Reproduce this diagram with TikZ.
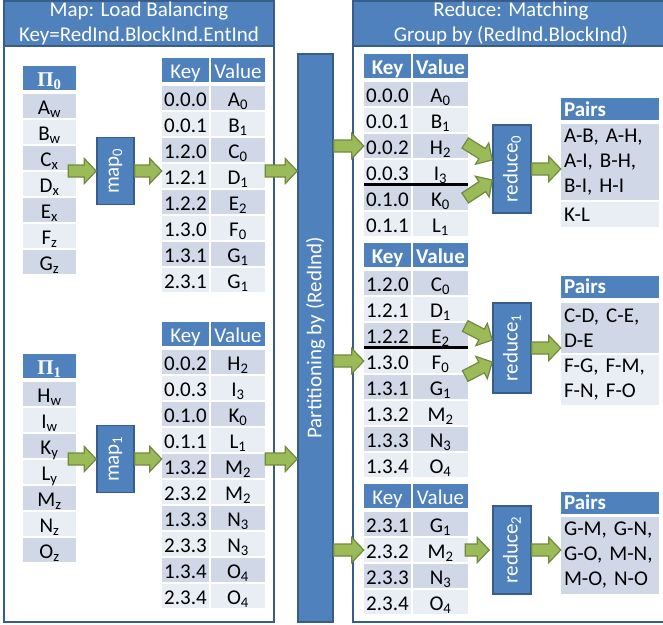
\documentclass[tikz,border=0pt]{standalone}
\usepackage{fontspec}
\setmainfont{Carlito}
\newfontfamily\pifont{Liberation Serif}
\usepackage{graphicx}
\usetikzlibrary{calc,positioning}

\definecolor{hdrblue}{HTML}{4F81BD}
\definecolor{lineblue}{HTML}{385D8A}
\definecolor{rowdark}{HTML}{D0D8E8}
\definecolor{rowlight}{HTML}{E9EDF4}
\definecolor{arrowfill}{HTML}{9BBB59}
\definecolor{arrowline}{HTML}{71893F}

% block arrow from #1 to #2
\newcommand{\greenarrow}[2]{%
  \path (#1) coordinate (gas) (#2) coordinate (gat);
  \path ($(gat)!12pt!(gas)$) coordinate (gac);
  \filldraw[fill=arrowfill,draw=arrowline,line width=1.2pt,line join=miter]
    ($(gas)!6pt!90:(gat)$) -- ($(gac)!6pt!90:(gat)$) -- ($(gac)!12.5pt!90:(gat)$) -- (gat)
    -- ($(gac)!12.5pt!-90:(gat)$) -- ($(gac)!6pt!-90:(gat)$) -- ($(gas)!6pt!-90:(gat)$) -- cycle;}

\begin{document}
\begin{tikzpicture}
		[x=1pt,y=-1pt,font=\fontsize{21}{25}\selectfont,
		cell/.style={shape=rectangle,inner sep=0pt,minimum height=24pt,text height=17pt,text depth=1pt},
		head cell/.style={cell,fill=hdrblue,text=white},
		fun box/.style={shape=rectangle,draw=lineblue,line width=1.5pt,fill=hdrblue,text=white,inner sep=0pt},
		panel head/.style={shape=rectangle,draw=lineblue,line width=1.5pt,fill=hdrblue,text=white,inner sep=0pt,minimum height=45pt,align=center},
		pair cell/.style={shape=rectangle,inner xsep=3pt,inner ysep=0pt,text width=92pt,align=left},
		panel/.style={draw=lineblue,line width=2pt},
		cut line/.style={line width=3pt}]
		\fill[white] (0,0) rectangle (663,624);
		\useasboundingbox (0,0) rectangle (663,624);
		
		% panels
		\draw[panel] (4,1) rectangle (274,622);
		\node[panel head,minimum width=270pt] (maphead) at (139,23.5) {Map: Load Balancing\\Key=RedInd.BlockInd.EntInd};
		\draw[panel] (353,1) rectangle (669,622);
		\node[panel head,minimum width=316pt] (redhead) at (511,23.5) {Reduce: Matching\\Group by (RedInd.BlockInd)};
		
		% input blocks
		\node[head cell,minimum width=53pt] (pi0h) at (49.5,78) {\pifont\bfseries Π\textsubscript{0}};
		\foreach \vv [count=\i] in {A\textsubscript{w},B\textsubscript{w},C\textsubscript{x},D\textsubscript{x},E\textsubscript{x},F\textsubscript{z},G\textsubscript{z}}{
			\ifodd\i\relax \def\rc{rowdark}\else \def\rc{rowlight}\fi
			\node[cell,fill=\rc,minimum width=53pt] (pi0r\i) at (49.5,{106+26*(\i-1)}) {\vv};
		}
		\node[head cell,minimum width=53pt] (pi1h) at (49.5,366) {\pifont\bfseries Π\textsubscript{1}};
		\foreach \vv [count=\i] in {H\textsubscript{w},I\textsubscript{w},K\textsubscript{y},L\textsubscript{y},M\textsubscript{z},N\textsubscript{z},O\textsubscript{z}}{
			\ifodd\i\relax \def\rc{rowdark}\else \def\rc{rowlight}\fi
			\node[cell,fill=\rc,minimum width=53pt] (pi1r\i) at (49.5,{394+26*(\i-1)}) {\vv};
		}
		
		% map tasks
		\node[fun box,minimum width=37pt,minimum height=67pt] (map0) at (115.5,171) {\rotatebox{90}{map\textsubscript{0}}};
		\node[fun box,minimum width=37pt,minimum height=67pt] (map1) at (115.5,459) {\rotatebox{90}{map\textsubscript{1}}};
		
		% map output
		\node[head cell,minimum width=47pt] (kv0kh) at (185.5,70) {Key};
		\node[head cell,minimum width=54pt] (kv0vh) at (238,70) {Value};
		\foreach \kk/\vv [count=\i] in {0.0.0/A\textsubscript{0},0.0.1/B\textsubscript{1},1.2.0/C\textsubscript{0},1.2.1/D\textsubscript{1},1.2.2/E\textsubscript{2},1.3.0/F\textsubscript{0},1.3.1/G\textsubscript{1},2.3.1/G\textsubscript{1}}{
			\ifodd\i\relax \def\rc{rowdark}\else \def\rc{rowlight}\fi
			\node[cell,fill=\rc,minimum width=47pt] (kv0k\i) at (185.5,{98+26*(\i-1)}) {\kk};
			\node[cell,fill=\rc,minimum width=54pt] (kv0v\i) at (238,{98+26*(\i-1)}) {\vv};
		}
		\node[head cell,minimum width=47pt] (kv1kh) at (185.5,334) {Key};
		\node[head cell,minimum width=54pt] (kv1vh) at (238,334) {Value};
		\foreach \kk/\vv [count=\i] in {0.0.2/H\textsubscript{2},0.0.3/I\textsubscript{3},0.1.0/K\textsubscript{0},0.1.1/L\textsubscript{1},1.3.2/M\textsubscript{2},2.3.2/M\textsubscript{2},1.3.3/N\textsubscript{3},2.3.3/N\textsubscript{3},1.3.4/O\textsubscript{4},2.3.4/O\textsubscript{4}}{
			\ifodd\i\relax \def\rc{rowdark}\else \def\rc{rowlight}\fi
			\node[cell,fill=\rc,minimum width=47pt] (kv1k\i) at (185.5,{362+26*(\i-1)}) {\kk};
			\node[cell,fill=\rc,minimum width=54pt] (kv1v\i) at (238,{362+26*(\i-1)}) {\vv};
		}
		
		% partitioning
		\node[fun box,minimum width=35pt,minimum height=568pt] (part) at (315.5,338) {\rotatebox{90}{Partitioning by (RedInd)}};
		
		% reduce input
		\node[head cell,minimum width=47pt] (rt0kh) at (387.5,66) {\bfseries Key};
		\node[head cell,minimum width=55pt] (rt0vh) at (440.5,66) {\bfseries Value};
		\foreach \kk/\vv [count=\i] in {0.0.0/A\textsubscript{0},0.0.1/B\textsubscript{1},0.0.2/H\textsubscript{2},0.0.3/I\textsubscript{3},0.1.0/K\textsubscript{0},0.1.1/L\textsubscript{1}}{
			\ifodd\i\relax \def\rc{rowdark}\else \def\rc{rowlight}\fi
			\node[cell,fill=\rc,minimum width=47pt] (rt0k\i) at (387.5,{94+26*(\i-1)}) {\kk};
			\node[cell,fill=\rc,minimum width=55pt] (rt0v\i) at (440.5,{94+26*(\i-1)}) {\vv};
		}
		\node[head cell,minimum width=47pt] (rt1kh) at (387.5,255) {\bfseries Key};
		\node[head cell,minimum width=55pt] (rt1vh) at (440.5,255) {\bfseries Value};
		\foreach \kk/\vv [count=\i] in {1.2.0/C\textsubscript{0},1.2.1/D\textsubscript{1},1.2.2/E\textsubscript{2},1.3.0/F\textsubscript{0},1.3.1/G\textsubscript{1},1.3.2/M\textsubscript{2},1.3.3/N\textsubscript{3},1.3.4/O\textsubscript{4}}{
			\ifodd\i\relax \def\rc{rowdark}\else \def\rc{rowlight}\fi
			\node[cell,fill=\rc,minimum width=47pt] (rt1k\i) at (387.5,{283+26*(\i-1)}) {\kk};
			\node[cell,fill=\rc,minimum width=55pt] (rt1v\i) at (440.5,{283+26*(\i-1)}) {\vv};
		}
		\node[head cell,minimum width=47pt] (rt2kh) at (387.5,496) {Key};
		\node[head cell,minimum width=55pt] (rt2vh) at (440.5,496) {Value};
		\foreach \kk/\vv [count=\i] in {2.3.1/G\textsubscript{1},2.3.2/M\textsubscript{2},2.3.3/N\textsubscript{3},2.3.4/O\textsubscript{4}}{
			\ifodd\i\relax \def\rc{rowdark}\else \def\rc{rowlight}\fi
			\node[cell,fill=\rc,minimum width=47pt] (rt2k\i) at (387.5,{524+26*(\i-1)}) {\kk};
			\node[cell,fill=\rc,minimum width=55pt] (rt2v\i) at (440.5,{524+26*(\i-1)}) {\vv};
		}
		\draw[cut line] (rt0k4.south west) -- (rt0v4.south east);
		\draw[cut line] (rt1k3.south west) -- (rt1v3.south east);
		
		% reduce tasks
		\node[fun box,minimum width=38pt,minimum height=88pt] (red0) at (512,169) {\rotatebox{90}{reduce\textsubscript{0}}};
		\node[fun box,minimum width=38pt,minimum height=90pt] (red1) at (512,348) {\rotatebox{90}{reduce\textsubscript{1}}};
		\node[fun box,minimum width=38pt,minimum height=88pt] (red2) at (512,550) {\rotatebox{90}{reduce\textsubscript{2}}};
		
		% pairs
		\node[pair cell,fill=hdrblue,text=white,minimum height=22pt] (pr0h) at (610,109) {\bfseries Pairs};
		\node[pair cell,fill=rowdark,minimum height=76pt] (pr0a) at (610,162) {A-B, A-H,\\A-I, B-H,\\B-I, H-I};
		\node[pair cell,fill=rowlight,minimum height=25pt] (pr0b) at (610,214.5) {K-L};
		\node[pair cell,fill=hdrblue,text=white,minimum height=22pt] (pr1h) at (610,286.5) {\bfseries Pairs};
		\node[pair cell,fill=rowdark,minimum height=50pt] (pr1a) at (610,328) {C-D, C-E,\\D-E};
		\node[pair cell,fill=rowlight,minimum height=50pt] (pr1b) at (610,380) {F-G, F-M,\\F-N, F-O};
		\node[pair cell,fill=hdrblue,text=white,minimum height=22pt] (pr2h) at (610,502.5) {\bfseries Pairs};
		\node[pair cell,fill=rowdark,minimum height=77pt] (pr2a) at (610,555.5) {G-M, G-N,\\G-O, M-N,\\M-O, N-O};
		
		% arrows
		\greenarrow{[xshift=-8pt]map0.west -| pi0r1.east}{map0.west}
		\greenarrow{map0.east}{map0.east -| kv0k1.west}
		\greenarrow{map0.east -| kv0v1.east}{map0.east -| part.west}
		\greenarrow{[xshift=-8pt]map1.west -| pi1r1.east}{map1.west}
		\greenarrow{map1.east}{map1.east -| kv1k1.west}
		\greenarrow{map1.east -| kv1v1.east}{map1.east -| part.west}
		
		\greenarrow{rt0k3.west -| part.east}{rt0k3.west}
		\greenarrow{[xshift=-3pt,yshift=3pt]rt0v3.east}{[yshift=9pt]red0.west}
		\greenarrow{[xshift=-3pt]rt0v5.east}{[yshift=-11pt]red0.west}
		\greenarrow{red0.east}{red0.east -| pr0h.west}
		
		\greenarrow{rt1k4.west -| part.east}{rt1k4.west}
		\greenarrow{[xshift=-3pt,yshift=9pt]rt1v3.east}{[yshift=8pt]red1.west}
		\greenarrow{[xshift=-3pt,yshift=11pt]rt1v5.east}{[yshift=-14pt]red1.west}
		\greenarrow{red1.east}{red1.east -| pr1h.west}
		
		\greenarrow{rt2k2.west -| part.east}{rt2k2.west}
		\greenarrow{[xshift=-3pt]rt2v2.east}{[xshift=-3pt]rt2v2.east -| red2.west}
		\greenarrow{red2.east}{red2.east -| pr2h.west}
		
\end{tikzpicture}
\end{document}
